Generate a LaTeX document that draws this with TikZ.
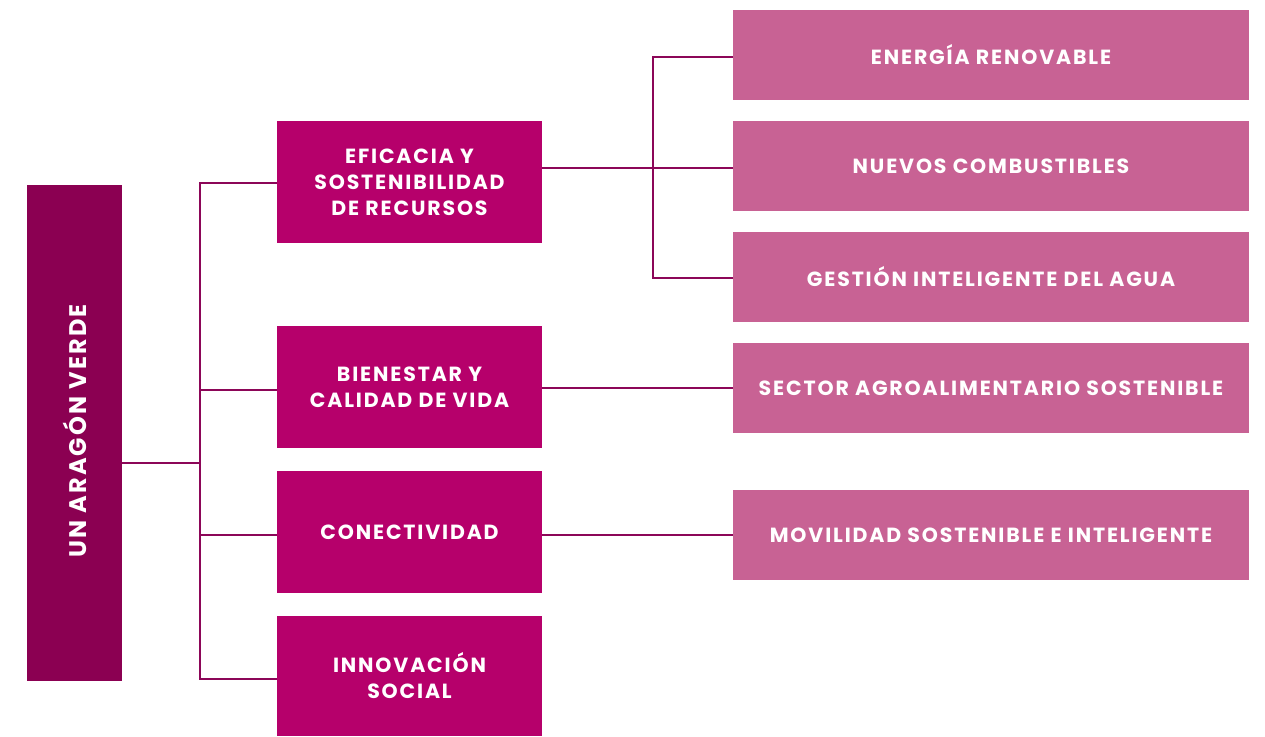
\documentclass[tikz,border=0pt]{standalone}
\usepackage{fontspec}
\setmainfont{Poppins}[LetterSpace=9]
\definecolor{rootc}{RGB}{139,0,82}
\definecolor{midc}{RGB}{182,0,107}
\definecolor{rightc}{RGB}{200,98,148}
\definecolor{linec}{RGB}{140,6,88}
\tikzset{
  base/.style={rectangle, inner sep=0pt, text=white, font=\fontsize{20.5}{26}\selectfont\bfseries, align=center},
  rootbox/.style={base, fill=rootc, minimum width=95pt, minimum height=496pt},
  midbox/.style={base, fill=midc, minimum width=265pt, minimum height=122pt},
  rightbox/.style={base, fill=rightc, minimum width=516pt, minimum height=90pt},
  conn/.style={draw=linec, line width=2.8pt}
}
\begin{document}
\begin{tikzpicture}[x=1pt,y=-1pt]
\useasboundingbox (0,0) rectangle (1265,736);
% root
\node[rootbox] (root) at (74.5,433) {};
\node[base, font=\fontsize{24}{28}\selectfont\bfseries, rotate=90] (roott) at (74.5,431) {UN ARAGÓN VERDE};
% middle
\node[midbox] (eff) at (409.5,182) {EFICACIA Y\\SOSTENIBILIDAD\\DE RECURSOS};
\node[midbox] (bie) at (409.5,387) {BIENESTAR Y\\CALIDAD DE VIDA};
\node[midbox] (con) at (409.5,532) {CONECTIVIDAD};
\node[midbox, minimum height=120pt] (inn) at (409.5,676) {INNOVACIÓN\\SOCIAL};
% right
\node[rightbox] (ene) at (991,55) {ENERGÍA RENOVABLE};
\node[rightbox] (nue) at (991,166) {NUEVOS COMBUSTIBLES};
\node[rightbox] (ges) at (991,277) {GESTIÓN INTELIGENTE DEL AGUA};
\node[rightbox] (sec) at (991,388) {SECTOR AGROALIMENTARIO SOSTENIBLE};
\node[rightbox] (mov) at (991,535) {MOVILIDAD SOSTENIBLE E INTELIGENTE};
% connectors left
\coordinate (trunk) at (200,463);
\draw[conn] (root.east |- trunk) -- (trunk);
\draw[conn] (eff.west |- 0,183) -| (200,679) -- (inn.west |- 0,679);
\draw[conn] (bie.west |- 0,390) -- (200,390);
\draw[conn] (con.west |- 0,535) -- (200,535);
% connectors right
\draw[conn] (eff.east |- 0,168) -- (nue.west |- 0,168);
\draw[conn] (ene.west |- 0,57) -| (653,278) -- (ges.west |- 0,278);
\draw[conn] (bie.east |- sec.west) -- (sec.west);
\draw[conn] (con.east |- mov.west) -- (mov.west);
\end{tikzpicture}
\end{document}
